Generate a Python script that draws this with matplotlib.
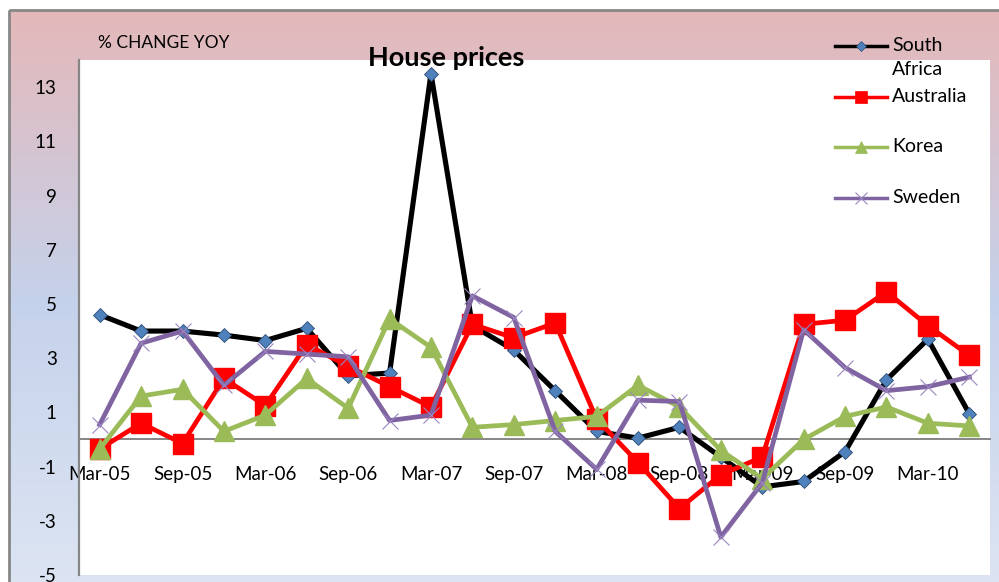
import numpy as np
import matplotlib.pyplot as plt
from matplotlib.colors import LinearSegmentedColormap
from matplotlib.lines import Line2D
from matplotlib.patches import Rectangle

plt.rcParams['font.family'] = ['Lato', 'DejaVu Sans']
plt.rcParams['axes.unicode_minus'] = False

# -----------------------------
# Datos (% cambio anual)
# -----------------------------

quarters = ['Mar-05', 'Jun-05', 'Sep-05', 'Dec-05', 'Mar-06', 'Jun-06', 'Sep-06', 'Dec-06',
            'Mar-07', 'Jun-07', 'Sep-07', 'Dec-07', 'Mar-08', 'Jun-08', 'Sep-08', 'Dec-08',
            'Mar-09', 'Jun-09', 'Sep-09', 'Dec-09', 'Mar-10', 'Jun-10']

south_africa = [4.6, 4.0, 4.0, 3.85, 3.65, 4.1, 2.35, 2.45, 13.5, 4.2, 3.3, 1.8,
                0.3, 0.05, 0.45, -0.65, -1.75, -1.55, -0.45, 2.2, 3.7, 0.95]
australia = [-0.35, 0.6, -0.15, 2.25, 1.25, 3.5, 2.7, 1.95, 1.2, 4.25, 3.75, 4.3,
             0.75, -0.85, -2.55, -1.3, -0.65, 4.25, 4.4, 5.45, 4.2, 3.1]
korea = [-0.35, 1.6, 1.85, 0.3, 0.9, 2.25, 1.15, 4.45, 3.4, 0.45, 0.55, 0.7,
         0.85, 2.0, 1.2, -0.4, -1.45, 0.0, 0.85, 1.2, 0.6, 0.5]
sweden = [0.55, 3.55, 4.0, 2.0, 3.25, 3.15, 3.05, 0.7, 0.9, 5.3, 4.5, 0.3,
          -1.1, 1.45, 1.4, -3.6, -1.6, 4.05, 2.65, 1.8, 1.95, 2.3]

y_ticks = [-5, -3, -1, 1, 3, 5, 7, 9, 11, 13]
x_label_every = 2

# -----------------------------
# Figura y fondo degradado
# -----------------------------

W, H = 999, 582
fig = plt.figure(figsize=(W / 100, H / 100), dpi=100)

bg = fig.add_axes([0, 0, 1, 1], zorder=0)
bg.axis('off')

cmap_bg = LinearSegmentedColormap.from_list(
    'fondo', [(0.0, '#e4b8b9'), (0.5, '#c5d2eb'), (1.0, '#dde5f3')])
grad = np.linspace(0, 1, 256).reshape(-1, 1)
bg.imshow(grad, cmap=cmap_bg, aspect='auto', extent=[9, W + 10, H + 10, 10])
bg.add_patch(Rectangle((9, 10), W + 10, H + 10, fill=False, edgecolor='#878787', lw=2))
bg.set_xlim(0, W)
bg.set_ylim(H, 0)

ax = fig.add_axes([79 / W, 1 - 575 / H, (990 - 79) / W, (575 - 60) / H], zorder=1)
ax.set_facecolor('white')

x = np.arange(len(quarters))

ax.plot(x, south_africa, color='black', lw=3.7, marker='D', ms=7.4,
        mfc='#4f81bd', mec='#2c4d75', mew=0.6, zorder=3, label='South\nAfrica')
ax.plot(x, australia, color='#ff0000', lw=3.4, marker='s', ms=14,
        mfc='#ff0000', mec='#ff0000', zorder=4, label='Australia')
ax.plot(x, korea, color='#9bbb59', lw=3.4, marker='^', ms=14,
        mfc='#9bbb59', mec='#9bbb59', zorder=5, label='Korea')
ax.plot(x, sweden, color='#8064a2', lw=3.4, marker='x', ms=11,
        mec='#9a86c0', mew=0.8, zorder=6, label='Sweden')

ax.set_xlim(-0.5, len(quarters) - 0.5)
ax.set_ylim(-5, 14)

ax.set_yticks(y_ticks)
ax.set_xticks(x[::x_label_every])
ax.set_xticklabels(quarters[::x_label_every], fontweight='bold')
ax.tick_params(axis='y', length=0, pad=16, labelsize=13.5)
ax.tick_params(axis='x', length=0, pad=19, labelsize=13.5)

ax.spines['top'].set_visible(False)
ax.spines['right'].set_visible(False)
ax.spines['bottom'].set_position(('data', 0))
ax.spines['bottom'].set_color('#868686')
ax.spines['bottom'].set_linewidth(1.4)
ax.spines['left'].set_color('#868686')
ax.spines['left'].set_linewidth(1.6)

# -----------------------------
# Textos
# -----------------------------

fig.text(446 / W, 1 - 58 / H, 'House prices', ha='center', va='center',
         fontsize=19.5, fontweight='bold', zorder=5)
fig.text(98 / W, 1 - 43 / H, '% CHANGE YOY', ha='left', va='center', fontsize=12.5)

# leyenda dibujada a mano (Excel alinea el simbolo con la primera linea)
leyenda = [
    (46, 'black', 'D', 5.5, '#4f81bd', 'South\nAfrica'),
    (97, '#ff0000', 's', 9, '#ff0000', 'Australia'),
    (147, '#9bbb59', '^', 9, '#9bbb59', 'Korea'),
    (198, '#8064a2', 'x', 8, '#9a86c0', 'Sweden'),
]
for yy, col, mk, ms, mc, lab in leyenda:
    fig.add_artist(Line2D([835, 887], [yy, yy], transform=bg.transData, color=col, lw=2.5, zorder=10))
    fig.add_artist(Line2D([861], [yy], transform=bg.transData, marker=mk, ms=ms, mfc=mc,
                          mec=mc if mk != 'D' else '#2c4d75', mew=0.8 if mk == 'x' else 0.5,
                          linestyle='none', zorder=11))
    fig.text(892 / W, 1 - (yy - 9) / H, lab, ha='left', va='top', fontsize=14,
             linespacing=1.5, zorder=11)

fig.savefig('out.png', dpi=100)
